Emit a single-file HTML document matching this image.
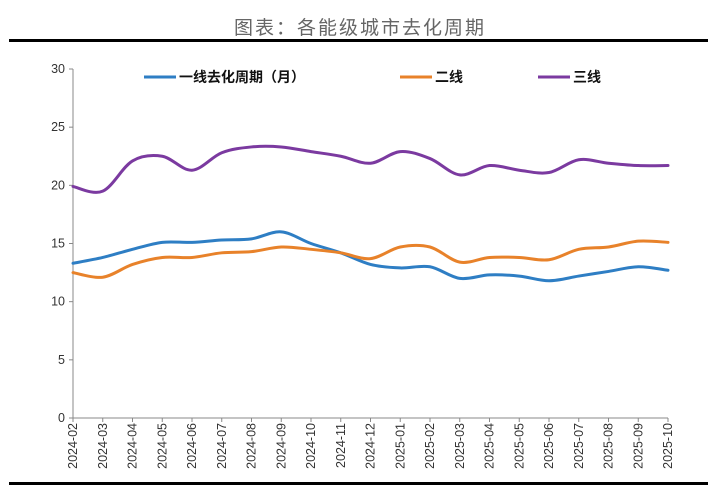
<!DOCTYPE html>
<html><head><meta charset="utf-8"><style>
body{margin:0;background:#fff;width:719px;height:489px;overflow:hidden}
svg{display:block}
text{font-family:"Liberation Sans","Noto Sans CJK SC",sans-serif}
</style></head><body>
<svg id="s" width="719" height="489" xmlns="http://www.w3.org/2000/svg">
<text x="360" y="34" text-anchor="middle" font-size="19" fill="#666" letter-spacing="2" font-family="Noto Sans CJK SC, sans-serif">图表：各能级城市去化周期</text>
<rect x="9" y="39" width="699" height="3" fill="#000"/>
<rect x="9" y="482" width="699" height="3" fill="#000"/>
<g id="ax" stroke="#888" stroke-width="1"></g>
<g id="lb" font-size="12.5" fill="#333"></g>
<g id="ln" fill="none" stroke-width="3" stroke-linecap="round"></g>
<g font-size="14" font-weight="bold" fill="#111" font-family="Noto Sans CJK SC, sans-serif">
<line x1="144" y1="77" x2="176" y2="77" stroke="#2e7ec4" stroke-width="3"/>
<text x="179" y="82">一线去化周期（月）</text>
<line x1="400" y1="77" x2="432" y2="77" stroke="#e8822a" stroke-width="3"/>
<text x="435" y="82">二线</text>
<line x1="538" y1="77" x2="570" y2="77" stroke="#7b3aa0" stroke-width="3"/>
<text x="573" y="82">三线</text>
</g>
</svg>
<script>
var X0=73,X1=668,Y0=418,Y30=69;
function px(i){return X0+(X1-X0)*i/20}
function py(v){return Y0-(Y0-Y30)*v/30}
var ax=document.getElementById('ax'),lb=document.getElementById('lb'),ln=document.getElementById('ln');
var h='<line x1="'+X0+'" y1="'+Y30+'" x2="'+X0+'" y2="'+Y0+'"/><line x1="'+X0+'" y1="'+Y0+'" x2="'+X1+'" y2="'+Y0+'"/>';
var t='';
for(var v=0;v<=30;v+=5){var y=py(v);h+='<line x1="'+(X0-4)+'" y1="'+y+'" x2="'+X0+'" y2="'+y+'"/>';t+='<text x="'+(X0-8)+'" y="'+(y+4)+'" text-anchor="end">'+v+'</text>';}
var labs=[];for(var m=2;m<=12;m++)labs.push('2024-'+(m<10?'0':'')+m);for(m=1;m<=10;m++)labs.push('2025-'+(m<10?'0':'')+m);
for(var i=0;i<21;i++){var x=px(i);h+='<line x1="'+x+'" y1="'+Y0+'" x2="'+x+'" y2="'+(Y0+4)+'"/>';t+='<text transform="translate('+(x+4)+','+(Y0+5)+') rotate(-90)" text-anchor="end">'+labs[i]+'</text>';}
ax.innerHTML=h;lb.innerHTML=t;
var D=[["#2e7ec4",[13.3,13.8,14.5,15.1,15.1,15.3,15.4,16.0,15.0,14.2,13.2,12.9,13.0,12.0,12.3,12.2,11.8,12.2,12.6,13.0,12.7]],
["#e8822a",[12.5,12.1,13.2,13.8,13.8,14.2,14.3,14.7,14.5,14.2,13.7,14.7,14.7,13.4,13.8,13.8,13.6,14.5,14.7,15.2,15.1]],
["#7b3aa0",[19.9,19.5,22.1,22.5,21.3,22.8,23.3,23.3,22.9,22.5,21.9,22.9,22.3,20.9,21.7,21.3,21.1,22.2,21.9,21.7,21.7]]];
var o='';
D.forEach(function(s){var p=s[1].map(function(v,i){return [px(i),py(v)]});var d='M'+p[0][0]+','+p[0][1];
for(var i=0;i<p.length-1;i++){var a=p[Math.max(i-1,0)],b=p[i],c=p[i+1],e=p[Math.min(i+2,p.length-1)];var k=6;
d+=' C'+(b[0]+(c[0]-a[0])/k)+','+(b[1]+(c[1]-a[1])/k)+' '+(c[0]-(e[0]-b[0])/k)+','+(c[1]-(e[1]-b[1])/k)+' '+c[0]+','+c[1];}
o+='<path d="'+d+'" stroke="'+s[0]+'"/>';});
ln.innerHTML=o;
</script>
</body></html>
